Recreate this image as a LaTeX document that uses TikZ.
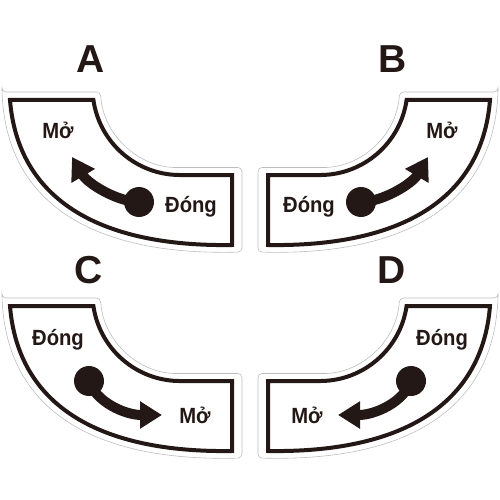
\documentclass[tikz,border=0pt]{standalone}
\usepackage{fontspec}
\setmainfont{Liberation Sans}
\newfontfamily\signfont[FakeStretch=0.92]{Liberation Sans}
\usetikzlibrary{arrows.meta}
\definecolor{ink}{HTML}{231815}
\definecolor{rim}{HTML}{BDBDBD}
\tikzset{
  rimline/.style={rim, line width=0.6pt, rounded corners=4pt},
  frameline/.style={ink, line width=4pt, line join=miter},
  knob/.style={circle, fill=ink, inner sep=0pt, minimum size=30pt},
  turn/.style={ink, line width=10pt, -{Triangle[length=22pt,width=26pt]}},
  sign/.style={ink, anchor=base, font=\signfont\bfseries\fontsize{22}{22}\selectfont},
  letter/.style={ink, anchor=base, font=\bfseries\fontsize{39}{39}\selectfont}
}
\begin{document}
\begin{tikzpicture}[x=1pt, y=-1pt]
    \useasboundingbox (0,0) rectangle (500,500);

    % Rahmen der vier Schilder
    \foreach \px/\py/\sx in {0/0/1, 500/0/-1, 0/206/1, 500/206/-1} {
      \begin{scope}[shift={(\px,\py)}, xscale=\sx]
        \draw[rimline] (2,92) -- (100.5,92) arc[start angle=176.8, end angle=90, radius=80]
          -- (242,167.5) -- (242,252) .. controls (95,256) and (8,205) .. (2,92) -- cycle;
        \draw[frameline] (93.4,100) arc[start angle=171.8, end angle=90, radius=87.5]
          -- (232,175) -- (232,245) .. controls (100,247) and (18,200) .. (10,100) -- cycle;
      \end{scope}
    }

    % Buchstaben
    \node[letter] (labA) at (91,73) {A};
    \node[letter] (labB) at (393,73) {B};
    \node[letter] (labC) at (89,283) {C};
    \node[letter] (labD) at (392,283) {D};

    % Schild A
    \node[sign] (openA) at (58,138) {Mở};
    \node[sign] (shutA) at (191,212) {Đóng};
    \node[knob] (knobA) at (139,202) {};
    \coordinate (tipA) at (72,157);
    \draw[turn] (knobA.center) .. controls (118,202) and (88,184) .. (tipA);

    % Schild B
    \node[sign] (openB) at (442,138) {Mở};
    \node[sign] (shutB) at (309,212) {Đóng};
    \node[knob] (knobB) at (361,202) {};
    \coordinate (tipB) at (428,157);
    \draw[turn] (knobB.center) .. controls (382,202) and (412,184) .. (tipB);

    % Schild C
    \node[sign] (shutC) at (58,345) {Đóng};
    \node[sign] (openC) at (195,423) {Mở};
    \node[knob] (knobC) at (89,381) {};
    \coordinate (tipC) at (162,415);
    \draw[turn] (knobC.center) .. controls (96,402) and (125,415) .. (tipC);

    % Schild D
    \node[sign] (shutD) at (442,345) {Đóng};
    \node[sign] (openD) at (307,423) {Mở};
    \node[knob] (knobD) at (411,381) {};
    \coordinate (tipD) at (338,415);
    \draw[turn] (knobD.center) .. controls (404,402) and (375,415) .. (tipD);
\end{tikzpicture}
\end{document}
